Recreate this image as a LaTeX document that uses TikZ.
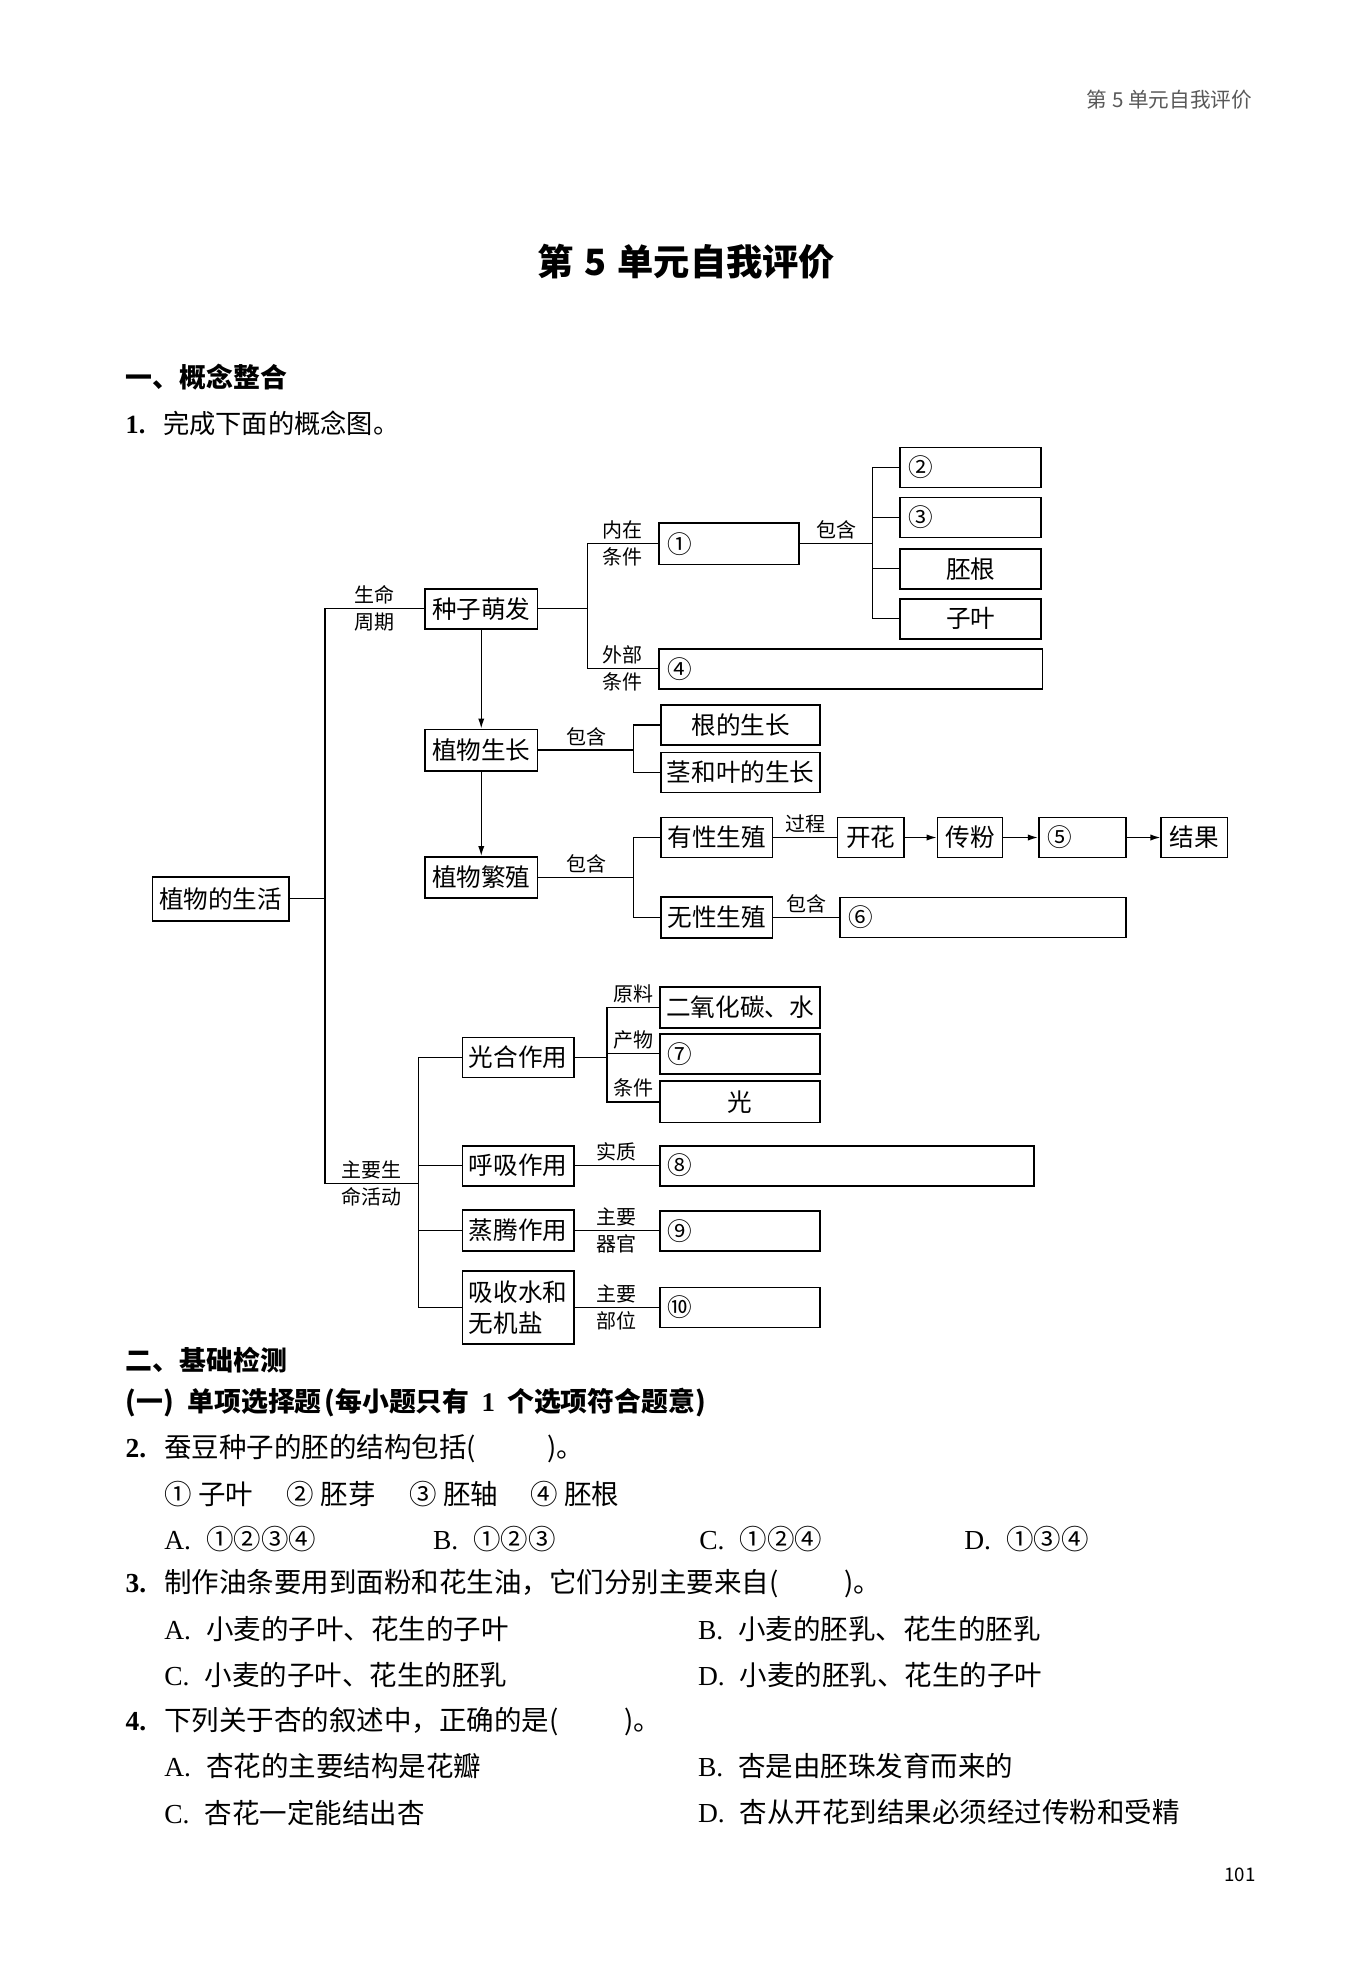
\documentclass[tikz,border=0pt]{standalone}
\usepackage{fontspec}
\setmainfont{Noto Sans CJK SC}
\newfontfamily\lat{Liberation Serif}
\usetikzlibrary{arrows.meta}
\newcommand\diafont{\fontsize{19.7}{25}\selectfont}
\newcommand\labfont{\fontsize{16}{18}\selectfont}
\newcommand\bodyfont{\fontsize{22}{26}\selectfont}
\newcommand\headfont{\fontsize{21.5}{25}\selectfont\bfseries}
\newcommand\opt[1]{{\lat #1.}\hspace{0.55em}}
\newcommand\qno[1]{\makebox[31pt][l]{\lat\bfseries #1.}}
\tikzset{
  box/.style={draw, line width=1.4pt, inner sep=0pt, minimum height=32pt, font=\diafont},
  num/.style={anchor=west, inner sep=0pt, font=\diafont},
  lbl/.style={font=\labfont, inner sep=3pt},
  txt/.style={anchor=west, inner sep=0pt, font=\bodyfont},
  tip/.style={-{Latex[length=8pt,width=5pt]}},
}

\begin{document}
\begin{tikzpicture}[x=1pt, y=-1pt, line width=1pt]
  \fill[white] (0,0) rectangle (1080,1569.6);
  \useasboundingbox (0,0) rectangle (1080,1569.6);

  % page head
  \node [anchor=east, inner sep=0pt, font=\fontsize{16.5}{18}\selectfont, text=black!65] (runhead) at (1002,80) {第 5 单元自我评价};
  \node [inner sep=0pt, font=\fontsize{29}{32}\selectfont\bfseries] (title) at (549,209) {第\hspace{0.3em}5\hspace{0.3em}单元自我评价};
  \node [anchor=west, inner sep=0pt, font=\headfont] (secone) at (100,302) {一、概念整合};
  \node [anchor=west, inner sep=0pt, font=\fontsize{21}{25}\selectfont] (qone) at (100,338.5) {\makebox[30pt][l]{\lat\bfseries 1.}完成下面的概念图。};

  % concept map: boxes
  \node [box, minimum width=109pt, minimum height=35pt] (life) at (176.5,719) {植物的生活};
  \node [box, minimum width=90pt] (germ) at (385,487) {种子萌发};
  \node [box, minimum width=90pt, minimum height=33pt] (grow) at (385,600) {植物生长};
  \node [box, minimum width=90pt, minimum height=33pt] (repro) at (385,702) {植物繁殖};

  \node [box, minimum width=112pt, minimum height=33pt] (inner) at (583,435) {};
  \node [box, minimum width=113pt] (b2) at (776.5,374) {};
  \node [box, minimum width=113pt] (b3) at (776.5,414) {};
  \node [box, minimum width=113pt] (radicle) at (776.5,455) {胚根};
  \node [box, minimum width=113pt] (cotyl) at (776.5,495) {子叶};
  \node [box, minimum width=307pt] (outer) at (680.5,535) {};

  \node [box, minimum width=127pt] (root) at (592.5,580) {根的生长};
  \node [box, minimum width=127pt] (stem) at (592.5,618) {茎和叶的生长};

  \node [box, minimum width=89pt] (sexual) at (573.5,670) {有性生殖};
  \node [box, minimum width=53pt] (bloom) at (696.5,670) {开花};
  \node [box, minimum width=52pt] (pollen) at (776,670) {传粉};
  \node [box, minimum width=70pt] (b5) at (866,670) {};
  \node [box, minimum width=53pt] (fruit) at (955.5,670) {结果};
  \node [box, minimum width=89pt, minimum height=33pt] (asexual) at (573.5,734) {无性生殖};
  \node [box, minimum width=229pt] (b6) at (786.5,734) {};

  \node [box, minimum width=89pt] (photo) at (414.5,846) {光合作用};
  \node [box, minimum width=89pt] (resp) at (414.5,932.5) {呼吸作用};
  \node [box, minimum width=89pt, minimum height=33pt] (transp) at (414.5,984.5) {蒸腾作用};
  \node [box, minimum width=89pt, minimum height=58pt, align=left] (absorb) at (414.5,1046) {吸收水和\\无机盐};

  \node [box, minimum width=128pt, minimum height=33pt] (co2) at (592,806) {二氧化碳、水};
  \node [box, minimum width=128pt] (b7) at (592,843) {};
  \node [box, minimum width=128pt, minimum height=33pt] (light) at (592,881.5) {光};
  \node [box, minimum width=299pt] (b8) at (677.5,932.5) {};
  \node [box, minimum width=128pt] (b9) at (592,984.5) {};
  \node [box, minimum width=128pt] (b10) at (592,1046) {};

  % blanks to fill in
  \node [num] (n1) at ([xshift=7pt]inner.west) {①};
  \node [num] (n2) at ([xshift=7pt]b2.west) {②};
  \node [num] (n3) at ([xshift=7pt]b3.west) {③};
  \node [num] (n4) at ([xshift=7pt]outer.west) {④};
  \node [num] (n5) at ([xshift=7pt]b5.west) {⑤};
  \node [num] (n6) at ([xshift=7pt]b6.west) {⑥};
  \node [num] (n7) at ([xshift=6pt]b7.west) {⑦};
  \node [num] (n8) at ([xshift=6pt]b8.west) {⑧};
  \node [num] (n9) at ([xshift=6pt]b9.west) {⑨};
  \node [num] (n10) at ([xshift=6pt]b10.west) {⑩};

  % junctions
  \coordinate (spine) at (260,719);
  \coordinate (gj) at (470,487);
  \coordinate (ij) at (698,435);
  \coordinate (gwj) at (507,600);
  \coordinate (rj) at (507,702);
  \coordinate (aj) at (335,946.5);
  \coordinate (pj) at (485.6,846);

  % connectors
  \draw (life) -- (spine);
  \draw (germ) -| (spine) node [lbl, pos=0.25, above] (cycA) {生命} node [lbl, pos=0.25, below] (cycB) {周期};
  \draw (spine) |- (aj) node [lbl, pos=0.75, above] (actA) {主要生} node [lbl, pos=0.75, below] (actB) {命活动};

  \draw (germ) -- (gj);
  \draw (inner) -| (gj) node [lbl, pos=0.25, above] (inA) {内在} node [lbl, pos=0.25, below] (inB) {条件};
  \draw (outer) -| (gj) node [lbl, pos=0.25, above] (outA) {外部} node [lbl, pos=0.25, below] (outB) {条件};
  \draw (inner) -- (ij) node [lbl, midway, above] (inC) {包含};
  \draw (b2) -| (ij);
  \draw (b3) -| (ij);
  \draw (radicle) -| (ij);
  \draw (cotyl) -| (ij);

  \draw [tip] (germ) -- (grow);
  \draw [tip] (grow) -- (repro);

  \draw (grow) -- (gwj) node [lbl, midway, above] (grC) {包含};
  \draw (root) -| (gwj);
  \draw (stem) -| (gwj);

  \draw (repro) -- (rj) node [lbl, midway, above] (reC) {包含};
  \draw (sexual) -| (rj);
  \draw (asexual) -| (rj);
  \draw (sexual) -- (bloom) node [lbl, midway, above] (seP) {过程};
  \draw [tip] (bloom) -- (pollen);
  \draw [tip] (pollen) -- (b5);
  \draw [tip] (b5) -- (fruit);
  \draw (asexual) -- (b6) node [lbl, midway, above] (asC) {包含};

  \draw (photo) -| (aj);
  \draw (resp) -| (aj);
  \draw (transp) -| (aj);
  \draw (absorb) -| (aj);

  \draw (photo) -- (pj);
  \draw (co2) -| (pj) node [lbl, pos=0.25, above] (phA) {原料};
  \draw (b7) -| (pj) node [lbl, pos=0.25, above] (phB) {产物};
  \draw (light) -| (pj) node [lbl, pos=0.25, above] (phC) {条件};
  \draw (resp) -- (b8) node [lbl, midway, above] (reS) {实质};
  \draw (transp) -- (b9) node [lbl, midway, above] (trA) {主要} node [lbl, midway, below] (trB) {器官};
  \draw (absorb) -- (b10) node [lbl, midway, above] (abA) {主要} node [lbl, midway, below] (abB) {部位};

  % questions
  \node [anchor=west, inner sep=0pt, font=\headfont] (sectwo) at (100,1088) {二、基础检测};
  \node [anchor=west, inner sep=0pt, font=\headfont] (single) at (100,1122) {(一)\hspace{0.5em}单项选择题\hspace{0.1em}(每小题只有\hspace{0.45em}{\lat 1}\hspace{0.45em}个选项符合题意)};

  \node [txt] (qtwo) at (100,1159) {\qno{2}蚕豆种子的胚的结构包括(\hspace{2.6em})。};
  \node [txt] (pa) at (131,1195) {① 子叶};
  \node [txt] (pb) at (229,1195) {② 胚芽};
  \node [txt] (pc) at (327,1195) {③ 胚轴};
  \node [txt] (pd) at (424,1195) {④ 胚根};
  \node [txt] (qtwoA) at (131,1231) {\opt{A}①②③④};
  \node [txt] (qtwoB) at (346,1231) {\opt{B}①②③};
  \node [txt] (qtwoC) at (559,1231) {\opt{C}①②④};
  \node [txt] (qtwoD) at (771,1231) {\opt{D}①③④};

  \node [txt] (qthree) at (100,1267) {\qno{3}制作油条要用到面粉和花生油，它们分别主要来自(\hspace{2.4em})。};
  \node [txt] (qthreeA) at (131,1303) {\opt{A}小麦的子叶、花生的子叶};
  \node [txt] (qthreeB) at (558,1303) {\opt{B}小麦的胚乳、花生的胚乳};
  \node [txt] (qthreeC) at (131,1340) {\opt{C}小麦的子叶、花生的胚乳};
  \node [txt] (qthreeD) at (558,1340) {\opt{D}小麦的胚乳、花生的子叶};

  \node [txt] (qfour) at (100,1377) {\qno{4}下列关于杏的叙述中，正确的是(\hspace{2.4em})。};
  \node [txt] (qfourA) at (131,1413) {\opt{A}杏花的主要结构是花瓣};
  \node [txt] (qfourB) at (558,1413) {\opt{B}杏是由胚珠发育而来的};
  \node [txt] (qfourC) at (131,1450) {\opt{C}杏花一定能结出杏};
  \node [txt] (qfourD) at (558,1450) {\opt{D}杏从开花到结果必须经过传粉和受精};

  \node [inner sep=0pt, font=\fontsize{15}{17}\selectfont] (pageno) at (992,1500) {101};
\end{tikzpicture}
\end{document}
